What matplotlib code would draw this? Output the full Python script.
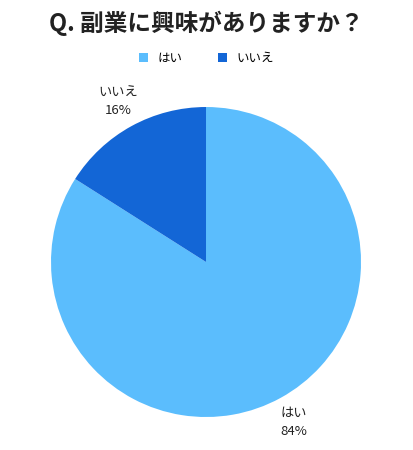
import numpy as np
import matplotlib.pyplot as plt
from matplotlib.patches import Patch

plt.rcParams['font.family'] = ['Noto Sans CJK JP', 'DejaVu Sans']

labels = ['はい', 'いいえ']
values = [84, 16]
colors = ['#5BBDFD', '#1366D6']

fig = plt.figure(figsize=(4.13, 4.5), dpi=100)
ax = fig.add_axes([0.1235, 0.0733, 0.7506, 0.6889])

wedges, _ = ax.pie(values, colors=colors, startangle=90, counterclock=False,
                   radius=1.0, wedgeprops=dict(linewidth=0))
ax.set_xlim(-1, 1)
ax.set_ylim(-1, 1)
ax.set_aspect('equal')

for w, lab, v in zip(wedges, labels, values):
    mid = np.deg2rad((w.theta1 + w.theta2) / 2)
    r = 1.18
    ax.text(r * np.cos(mid), r * np.sin(mid), f'{lab}\n{v}%', ha='center', va='center',
            fontsize=9.5, color='#222222', linespacing=1.5)

fig.text(0.5, 0.948, 'Q. 副業に興味がありますか？', ha='center', va='center',
         fontsize=17, fontweight='bold', color='#222222')

handles = [Patch(facecolor=c, edgecolor='none') for c in colors]
fig.legend(handles, labels, loc='center', bbox_to_anchor=(0.5, 0.871), ncol=2,
           frameon=False, fontsize=9, handlelength=0.75, handleheight=0.75,
           columnspacing=2.8, handletextpad=0.75)

fig.savefig('out.png', dpi=100)
